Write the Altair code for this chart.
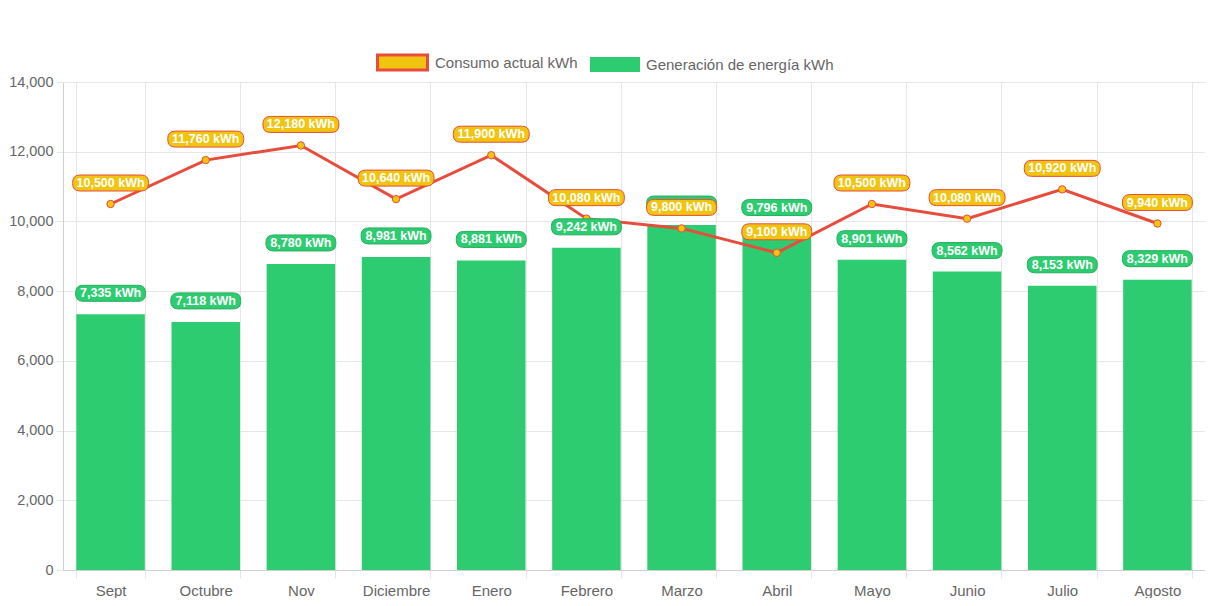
import altair as alt
import pandas as pd

meses = ["Sept", "Octubre", "Nov", "Diciembre", "Enero", "Febrero", "Marzo",
         "Abril", "Mayo", "Junio", "Julio", "Agosto"]
consumo = [10500, 11760, 12180, 10640, 11900, 10080, 9800, 9100, 10500, 10080, 10920, 9940]
generacion = [7335, 7118, 8780, 8981, 8881, 9242, 9896, 9796, 8901, 8562, 8153, 8329]

SERIE_C = "Consumo actual kWh"
SERIE_G = "Generación de energía kWh"

df = pd.DataFrame({"mes": meses, "consumo": consumo, "generacion": generacion})

RED = "#e74c3c"
YELLOW = "#f1c40f"
GREEN = "#2ecc71"
GREEN_D = "#27ae60"
FONT = "Liberation Sans"


def pill(w, h, r):
    b = h / w
    rr = r / (w / 2)
    a = 1
    return (f"M{-a+rr},{-b} L{a-rr},{-b} Q{a},{-b} {a},{-b+rr} L{a},{b-rr} "
            f"Q{a},{b} {a-rr},{b} L{-a+rr},{b} Q{-a},{b} {-a},{b-rr} "
            f"L{-a},{-b+rr} Q{-a},{-b} {-a+rr},{-b} Z")


rect_path = "M-1,-0.3 L1,-0.3 L1,0.3 L-1,0.3 Z"

x = alt.X("mes:N", sort=meses, title=None,
          scale=alt.Scale(paddingInner=0.28, paddingOuter=0.14),
          axis=alt.Axis(tickBand="extent", grid=True, gridColor="#e6e6e6",
                        domainColor="#d0d0d0", tickColor="#e6e6e6", tickSize=8,
                        labelAngle=0, labelFontSize=15, labelColor="#666666",
                        labelFont=FONT, labelPadding=5))

yscale = alt.Scale(domain=[0, 14000], nice=False)
yaxis = alt.Axis(values=list(range(0, 14001, 2000)), format=",.0f", title=None,
                 gridColor="#e6e6e6", domainColor="#d0d0d0", tickColor="#e6e6e6",
                 tickSize=7, labelPadding=3, labelFontSize=14.5, labelColor="#666666",
                 labelFont=FONT)


def legend():
    return alt.Legend(orient="none", legendX=313, legendY=-46, direction="horizontal",
                      title=None, symbolType=rect_path, symbolSize=2500,
                      labelFontSize=15, labelColor="#666666", labelFont=FONT,
                      labelLimit=500, labelOffset=6, columnPadding=12, padding=0,
                      symbolOpacity=1)


dom = [SERIE_C, SERIE_G]
bars = alt.Chart().mark_bar().transform_calculate(
    serie=f"'{SERIE_G}'"
).encode(
    x=x,
    y=alt.Y("generacion:Q", scale=yscale, axis=yaxis),
    fill=alt.Fill("serie:N", scale=alt.Scale(domain=dom, range=[YELLOW, GREEN]),
                  legend=legend()),
    stroke=alt.Stroke("serie:N", scale=alt.Scale(domain=dom, range=[RED, GREEN]),
                      legend=legend()),
    strokeWidth=alt.StrokeWidth("serie:N", scale=alt.Scale(domain=dom, range=[3, 0]),
                                legend=legend()),
)

line = alt.Chart().mark_line(color=RED, strokeWidth=3).encode(
    x=x, y=alt.Y("consumo:Q", scale=yscale))

points = alt.Chart().mark_point(filled=True, fill=YELLOW, stroke=RED, strokeWidth=1,
                                size=55, opacity=1).encode(
    x=x, y=alt.Y("consumo:Q", scale=yscale))


def label_layers(field, fill, stroke):
    layers = []
    base = alt.Chart().transform_calculate(
        label=f"format(datum.{field}, ',') + ' kWh'"
    )
    for n, w in [(10, 76), (9, 70)]:
        layers.append(
            base.transform_filter(f"length(datum.label) == {n}").mark_point(
                shape=pill(w, 16, 7.5), size=w * w, filled=True, fill=fill,
                stroke=stroke, strokeWidth=1, opacity=1, yOffset=-21
            ).encode(x=x, y=alt.Y(f"{field}:Q", scale=yscale))
        )
    layers.append(
        base.mark_text(color="white", fontWeight="bold", fontSize=12.5, font=FONT,
                       dy=-21, baseline="middle").encode(
            x=x, y=alt.Y(f"{field}:Q", scale=yscale), text="label:N")
    )
    return layers


chart = alt.layer(
    bars, line, points,
    *label_layers("generacion", GREEN, GREEN_D),
    *label_layers("consumo", YELLOW, RED),
    data=df,
).properties(
    width=1142, height=488,
    autosize=alt.AutoSizeParams(type="none"),
    padding={"left": 55, "top": 74, "right": 0, "bottom": 28},
).configure_view(strokeWidth=0)

chart.save("out.html", embed_options={"renderer": "svg", "actions": False})
